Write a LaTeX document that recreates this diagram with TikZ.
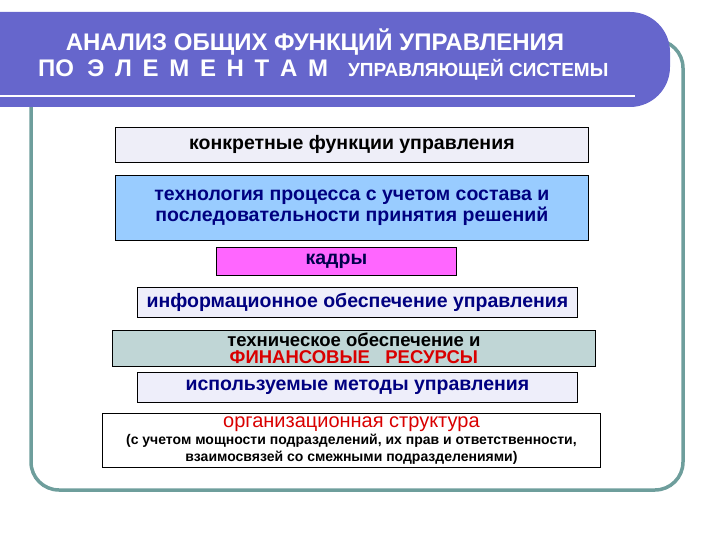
\documentclass[tikz,border=0pt]{standalone}
\usepackage{fontspec}
\setmainfont{Liberation Sans}
\begin{document}
\begin{tikzpicture}[x=1pt,y=-1pt,
 bx/.style={draw=black,line width=0.8pt,inner sep=0pt,anchor=north west,font=\bfseries\fontsize{19.5}{21}\selectfont,align=center},
 blue/.style={text=blue!50!black}]
\useasboundingbox (0,0) rectangle (720,540);
\definecolor{frm}{HTML}{6E9E9C}
\definecolor{ban}{HTML}{6666CC}
\draw[frm,line width=3.5pt,rounded corners=28pt] (31,40) rectangle (683,490);
\fill[ban,rounded corners=40pt] (-50,12) rectangle (670,107);
\fill[ban] (-5,12) rectangle (100,107);
\draw[white,line width=2pt] (0,96) -- (635,96);
\node[text=white,font=\bfseries\fontsize{24}{26}\selectfont] (t1) at (315,42) {АНАЛИЗ ОБЩИХ ФУНКЦИЙ УПРАВЛЕНИЯ};
\node[text=white,font=\bfseries\fontsize{24}{26}\selectfont,anchor=west,inner sep=0pt] (t2) at (38,70) {ПО\ \ Э\,\ Л\,\ Е\,\ М\,\ Е\,\ Н\,\ Т\,\ А\,\ М\ \ \ {\fontsize{19}{20}\selectfont УПРАВЛЯЮЩЕЙ СИСТЕМЫ}};
\node[bx,fill={rgb,255:red,238;green,238;blue,248},minimum width=473pt,minimum height=35pt] (b1) at (115,127) {конкретные функции управления};
\node[bx,blue,fill={rgb,255:red,153;green,204;blue,255},minimum width=473pt,minimum height=65pt] (b2) at (115,175) {технология процесса с учетом состава и\\последовательности принятия решений};
\node[bx,fill={rgb,255:red,255;green,102;blue,255},text=blue!30!black,minimum width=240pt,minimum height=28pt] (b3) at (216,247) {кадры};
\node[bx,blue,fill={rgb,255:red,238;green,238;blue,250},minimum width=440pt,minimum height=30pt] (b4) at (137,287) {информационное обеспечение управления};
\node[bx,fill={rgb,255:red,192;green,214;blue,214},minimum width=483pt,minimum height=36pt,font=\bfseries\fontsize{18.5}{17}\selectfont] (b5) at (112,330) {техническое обеспечение и\\\textcolor{red!85!black}{ФИНАНСОВЫЕ\ \ \ РЕСУРСЫ}};
\node[bx,blue,fill={rgb,255:red,238;green,238;blue,250},minimum width=440pt,minimum height=30pt] (b6) at (137,372) {используемые методы управления};
\node[bx,fill=white,minimum width=498pt,minimum height=54pt,font=\bfseries\fontsize{14}{17}\selectfont] (b7) at (102,413) {\textcolor{red!85!black}{\fontsize{20}{18}\selectfont\mdseries организационная структура}\\(с учетом мощности подразделений, их прав и ответственности,\\взаимосвязей со смежными подразделениями)};
\end{tikzpicture}
\end{document}
